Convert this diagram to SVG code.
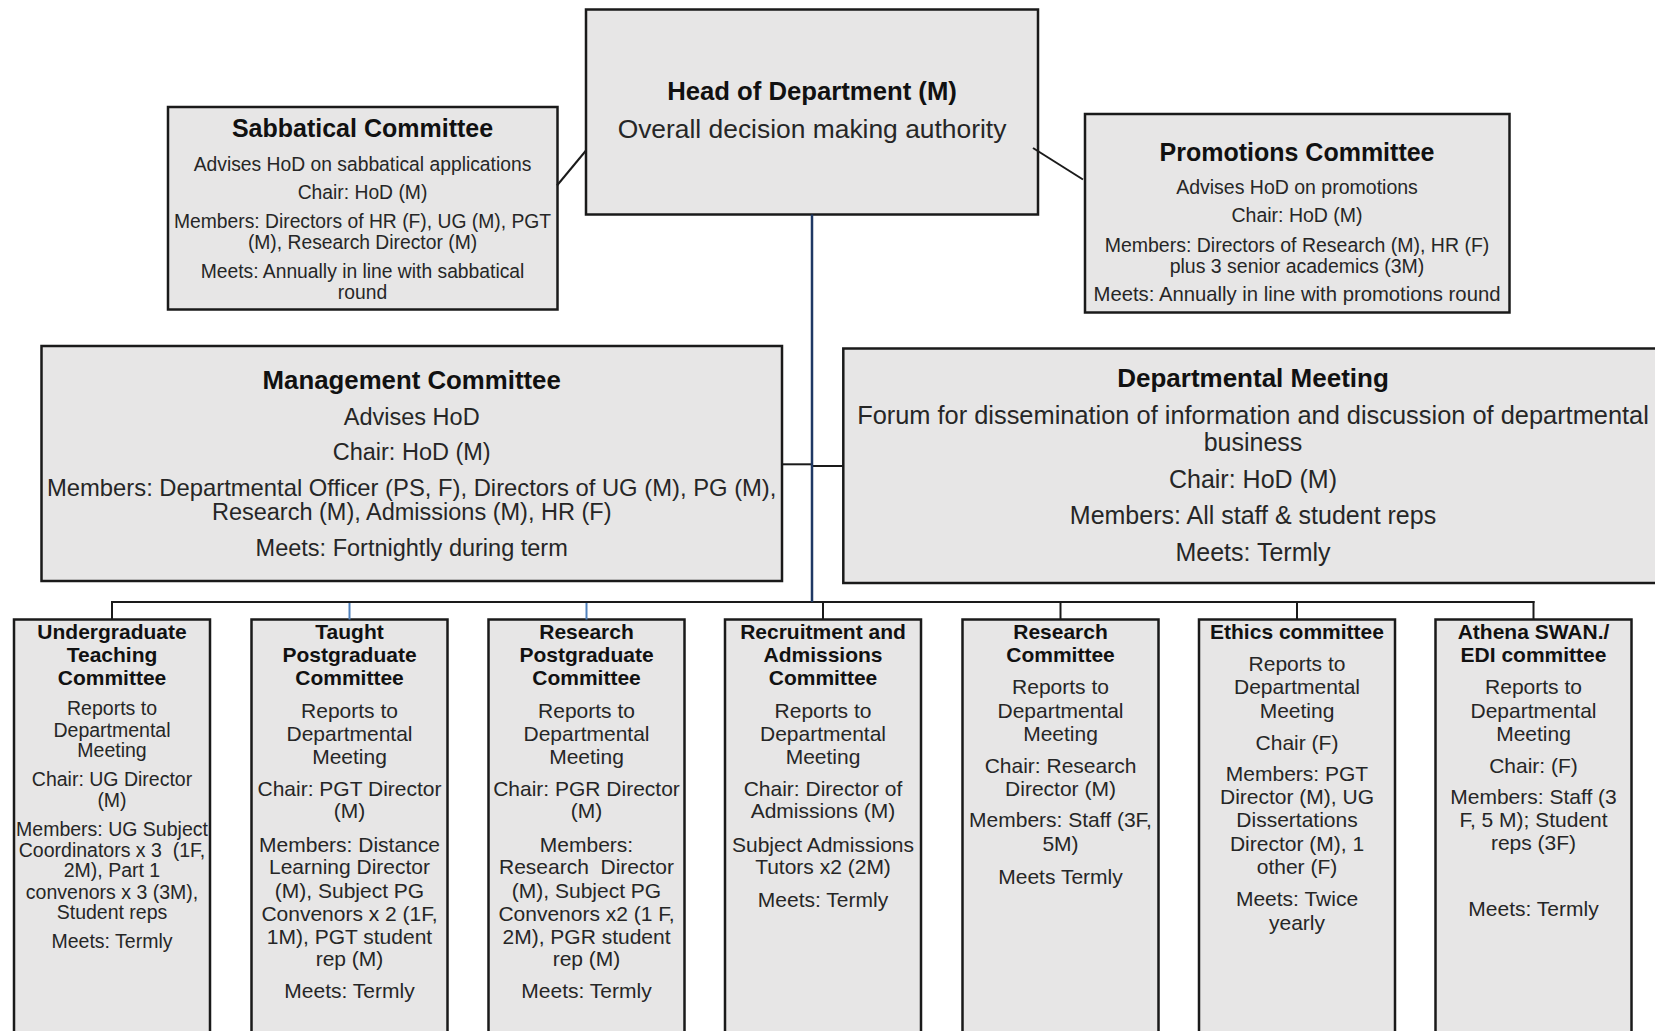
<svg xmlns="http://www.w3.org/2000/svg" width="1655" height="1031" viewBox="0 0 1655 1031">
<style>
.box{fill:#e7e6e6;stroke:#1a1a1a;stroke-width:2.5}
text{font-family:"Liberation Sans",Arial,sans-serif;text-anchor:middle;fill:#262626}
.h{font-weight:bold;fill:#111}
.c{stroke:#1a1a1a;stroke-width:2;fill:none}
.navy{stroke:#1f3864;stroke-width:2.5;fill:none}
.blue{stroke:#4f81bd;stroke-width:2;fill:none}
.f19{font-size:19.3px}.f195{font-size:19.5px}.f21{font-size:21px}.f235{font-size:23.5px}.f25{font-size:25px}.f26{font-size:26px}
</style>
<rect width="1655" height="1031" fill="#ffffff"/>
<g id="nodes">
<g id="hod">
<rect class="box" x="586" y="9.5" width="452" height="205"/>
<text class="h" x="812" y="100" style="font-size:25.7px">Head of Department (M)</text>
<text x="812" y="138" style="font-size:26.4px">Overall decision making authority</text>
</g>
<g id="sabbatical">
<rect class="box" x="168" y="107" width="389.5" height="202.5"/>
<text class="h f25" x="362.5" y="137">Sabbatical Committee</text>
<text class="f19" x="362.5"><tspan x="362.5" y="170.5">Advises HoD on sabbatical applications</tspan><tspan x="362.5" y="199.3">Chair: HoD (M)</tspan><tspan x="362.5" y="228">Members: Directors of HR (F), UG (M), PGT</tspan><tspan x="362.5" y="249">(M), Research Director (M)</tspan><tspan x="362.5" y="277.8">Meets: Annually in line with sabbatical</tspan><tspan x="362.5" y="298.5">round</tspan></text>
</g>
<g id="promotions">
<rect class="box" x="1085" y="114" width="424.5" height="198.5"/>
<text class="h f25" x="1297" y="160.5">Promotions Committee</text>
<text class="f195" x="1297"><tspan x="1297" y="194.3">Advises HoD on promotions</tspan><tspan x="1297" y="222">Chair: HoD (M)</tspan><tspan x="1297" y="252">Members: Directors of Research (M), HR (F)</tspan><tspan x="1297" y="273">plus 3 senior academics (3M)</tspan><tspan x="1297" y="301" style="font-size:20.3px">Meets: Annually in line with promotions round</tspan></text>
</g>
<g id="management">
<rect class="box" x="41.5" y="346" width="740.5" height="235"/>
<text class="h" x="411.7" y="388.5" style="font-size:25.8px">Management Committee</text>
<text class="f235" x="411.7"><tspan x="411.7" y="425">Advises HoD</tspan><tspan x="411.7" y="459.7">Chair: HoD (M)</tspan><tspan x="411.7" y="496" style="font-size:23.8px">Members: Departmental Officer (PS, F), Directors of UG (M), PG (M),</tspan><tspan x="411.7" y="519.5">Research (M), Admissions (M), HR (F)</tspan><tspan x="411.7" y="556">Meets: Fortnightly during term</tspan></text>
</g>
<g id="departmental">
<rect class="box" x="843.3" y="348.5" width="820" height="234.5"/>
<text class="h f26" x="1253" y="387">Departmental Meeting</text>
<text class="f25" x="1253"><tspan x="1253" y="424" style="font-size:25.4px">Forum for dissemination of information and discussion of departmental</tspan><tspan x="1253" y="451">business</tspan><tspan x="1253" y="487.5">Chair: HoD (M)</tspan><tspan x="1253" y="523.5">Members: All staff &amp; student reps</tspan><tspan x="1253" y="561.3">Meets: Termly</tspan></text>
</g>
<g id="ug">
<rect class="box" x="14" y="619.5" width="196" height="420"/>
<text class="h f21" x="112"><tspan x="112" y="638.5">Undergraduate</tspan><tspan x="112" y="662">Teaching</tspan><tspan x="112" y="684.5">Committee</tspan></text>
<text class="f195" x="112"><tspan x="112" y="715">Reports to</tspan><tspan x="112" y="737">Departmental</tspan><tspan x="112" y="757">Meeting</tspan><tspan x="112" y="786">Chair: UG Director</tspan><tspan x="112" y="807">(M)</tspan><tspan x="112" y="836">Members: UG Subject</tspan><tspan x="112" y="857">Coordinators x 3 &#160;(1F,</tspan><tspan x="112" y="877">2M), Part 1</tspan><tspan x="112" y="898.5">convenors x 3 (3M),</tspan><tspan x="112" y="918.5">Student reps</tspan><tspan x="112" y="947.5">Meets: Termly</tspan></text>
</g>
<g id="tpg">
<rect class="box" x="251.5" y="619.5" width="196" height="420"/>
<text class="h f21" x="349.5"><tspan x="349.5" y="638.5">Taught</tspan><tspan x="349.5" y="662">Postgraduate</tspan><tspan x="349.5" y="684.5">Committee</tspan></text>
<text class="f21" x="349.5"><tspan x="349.5" y="717.5">Reports to</tspan><tspan x="349.5" y="740.5">Departmental</tspan><tspan x="349.5" y="763.5">Meeting</tspan><tspan x="349.5" y="796">Chair: PGT Director</tspan><tspan x="349.5" y="818">(M)</tspan><tspan x="349.5" y="851.5">Members: Distance</tspan><tspan x="349.5" y="874">Learning Director</tspan><tspan x="349.5" y="897.5">(M), Subject PG</tspan><tspan x="349.5" y="920.5">Convenors x 2 (1F,</tspan><tspan x="349.5" y="943.5">1M), PGT student</tspan><tspan x="349.5" y="965.5">rep (M)</tspan><tspan x="349.5" y="997.5">Meets: Termly</tspan></text>
</g>
<g id="rpg">
<rect class="box" x="488.5" y="619.5" width="196" height="420"/>
<text class="h f21" x="586.5"><tspan x="586.5" y="638.5">Research</tspan><tspan x="586.5" y="662">Postgraduate</tspan><tspan x="586.5" y="684.5">Committee</tspan></text>
<text class="f21" x="586.5"><tspan x="586.5" y="717.5">Reports to</tspan><tspan x="586.5" y="740.5">Departmental</tspan><tspan x="586.5" y="763.5">Meeting</tspan><tspan x="586.5" y="796">Chair: PGR Director</tspan><tspan x="586.5" y="818">(M)</tspan><tspan x="586.5" y="851.5">Members:</tspan><tspan x="586.5" y="874">Research &#160;Director</tspan><tspan x="586.5" y="897.5">(M), Subject PG</tspan><tspan x="586.5" y="920.5">Convenors x2 (1 F,</tspan><tspan x="586.5" y="943.5">2M), PGR student</tspan><tspan x="586.5" y="965.5">rep (M)</tspan><tspan x="586.5" y="997.5">Meets: Termly</tspan></text>
</g>
<g id="recruitment">
<rect class="box" x="725" y="619.5" width="196" height="420"/>
<text class="h f21" x="823"><tspan x="823" y="638.5">Recruitment and</tspan><tspan x="823" y="662">Admissions</tspan><tspan x="823" y="684.5">Committee</tspan></text>
<text class="f21" x="823"><tspan x="823" y="717.5">Reports to</tspan><tspan x="823" y="740.5">Departmental</tspan><tspan x="823" y="763.5">Meeting</tspan><tspan x="823" y="796">Chair: Director of</tspan><tspan x="823" y="818">Admissions (M)</tspan><tspan x="823" y="851.5">Subject Admissions</tspan><tspan x="823" y="874">Tutors x2 (2M)</tspan><tspan x="823" y="906.5">Meets: Termly</tspan></text>
</g>
<g id="research">
<rect class="box" x="962.5" y="619.5" width="196" height="420"/>
<text class="h f21" x="1060.5"><tspan x="1060.5" y="638.5">Research</tspan><tspan x="1060.5" y="661.5">Committee</tspan></text>
<text class="f21" x="1060.5"><tspan x="1060.5" y="694">Reports to</tspan><tspan x="1060.5" y="717.5">Departmental</tspan><tspan x="1060.5" y="740.5">Meeting</tspan><tspan x="1060.5" y="773">Chair: Research</tspan><tspan x="1060.5" y="795.5">Director (M)</tspan><tspan x="1060.5" y="826.5">Members: Staff (3F,</tspan><tspan x="1060.5" y="850.5">5M)</tspan><tspan x="1060.5" y="883.5">Meets Termly</tspan></text>
</g>
<g id="ethics">
<rect class="box" x="1199" y="619.5" width="196" height="420"/>
<text class="h f21" x="1297" y="638.5">Ethics committee</text>
<text class="f21" x="1297"><tspan x="1297" y="671">Reports to</tspan><tspan x="1297" y="694">Departmental</tspan><tspan x="1297" y="717.5">Meeting</tspan><tspan x="1297" y="750">Chair (F)</tspan><tspan x="1297" y="780.5">Members: PGT</tspan><tspan x="1297" y="804">Director (M), UG</tspan><tspan x="1297" y="827">Dissertations</tspan><tspan x="1297" y="850.5">Director (M), 1</tspan><tspan x="1297" y="874">other (F)</tspan><tspan x="1297" y="906">Meets: Twice</tspan><tspan x="1297" y="929.5">yearly</tspan></text>
</g>
<g id="athena">
<rect class="box" x="1435.5" y="619.5" width="196" height="420"/>
<text class="h f21" x="1533.5"><tspan x="1533.5" y="638.5">Athena SWAN./</tspan><tspan x="1533.5" y="661.5">EDI committee</tspan></text>
<text class="f21" x="1533.5"><tspan x="1533.5" y="694">Reports to</tspan><tspan x="1533.5" y="717.5">Departmental</tspan><tspan x="1533.5" y="740.5">Meeting</tspan><tspan x="1533.5" y="772.5">Chair: (F)</tspan><tspan x="1533.5" y="804">Members: Staff (3</tspan><tspan x="1533.5" y="827">F, 5 M); Student</tspan><tspan x="1533.5" y="850">reps (3F)</tspan><tspan x="1533.5" y="916">Meets: Termly</tspan></text>
</g>
</g>
<g id="connectors">
<line class="c" x1="557" y1="185.5" x2="586" y2="150.5"/>
<line class="c" x1="1033" y1="148" x2="1083" y2="179.5"/>
<line class="c" x1="782" y1="464.3" x2="812" y2="464.3"/>
<line class="c" x1="812" y1="466" x2="843.3" y2="466"/>
<line class="c" x1="112" y1="602" x2="1534.5" y2="602"/>
<line class="c" x1="112" y1="601" x2="112" y2="619.5"/>
<line class="blue" x1="349.5" y1="603" x2="349.5" y2="619.5"/>
<line class="blue" x1="586.5" y1="603" x2="586.5" y2="619.5"/>
<line class="c" x1="823" y1="602" x2="823" y2="619.5"/>
<line class="c" x1="1060.5" y1="602" x2="1060.5" y2="619.5"/>
<line class="c" x1="1297" y1="602" x2="1297" y2="619.5"/>
<line class="c" x1="1533.5" y1="601" x2="1533.5" y2="619.5"/>
<line class="navy" x1="812" y1="214.5" x2="812" y2="602"/>
</g>
</svg>
